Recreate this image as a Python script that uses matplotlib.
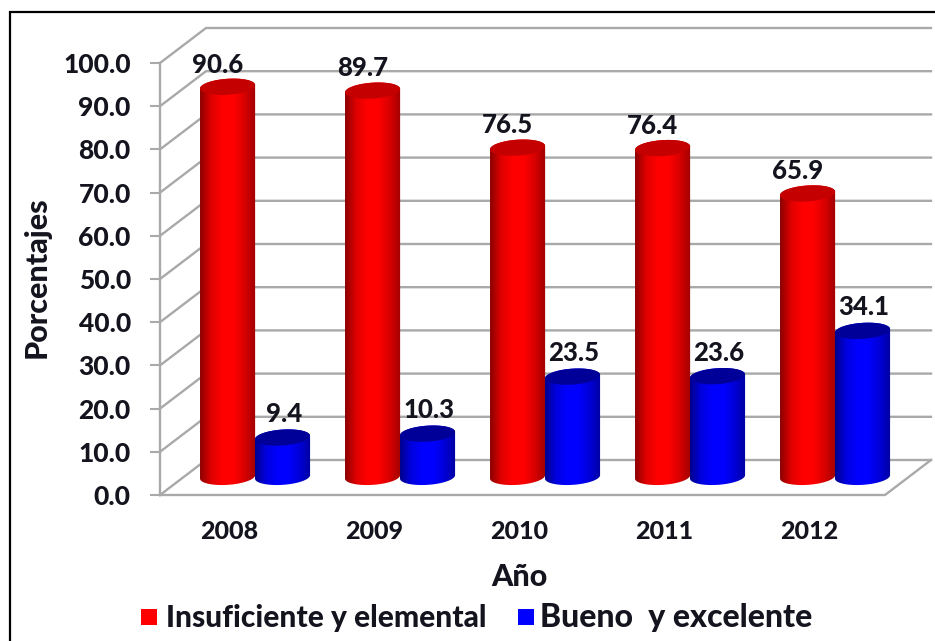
import numpy as np
import matplotlib
matplotlib.use("Agg")
import matplotlib.pyplot as plt
from matplotlib.patches import PathPatch, Polygon, Rectangle
from matplotlib.path import Path
from matplotlib.colors import LinearSegmentedColormap

plt.rcParams["font.family"] = ["Lato", "DejaVu Sans"]
plt.rcParams["font.weight"] = "black"

# DATA
YEARS = ["2008", "2009", "2010", "2011", "2012"]
INSUFICIENTE = [90.6, 89.7, 76.5, 76.4, 65.9]
BUENO = [9.4, 10.3, 23.5, 23.6, 34.1]
Y_TICKS = [0, 10, 20, 30, 40, 50, 60, 70, 80, 90, 100]

# GLOBALS (pixel layout of the figure)
W, H = 935, 641
X0, X1 = 160, 885
Y0, Y100 = 495, 63
PX_X = (X1 - X0) / 5
PX_Y = (Y0 - Y100) / 100
DEPTH_X = 46 / PX_X
DEPTH_Y = 35 / PX_Y
GRID = "#a9a9a9"
TEXT = "#14141e"
FLOOR = 4.2      # bars stand this far behind the front floor line
BAR_W = 0.38
ELL_H = 1.85
ELL_TILT = 0.4

RED_MAP = LinearSegmentedColormap.from_list("r", ["#8c0000", "#e00000", "#ff0000", "#ff0000", "#d80000", "#a00000"])
BLUE_MAP = LinearSegmentedColormap.from_list("b", ["#00008c", "#0000e0", "#0000ff", "#0000ff", "#0000d8", "#0000a0"])

fig = plt.figure(figsize=(W / 100, H / 100), dpi=100)
ax = fig.add_axes([X0 / W, 1 - Y0 / H, (X1 - X0) / W, (Y0 - Y100) / H])
ax.set_xlim(-0.5, 4.5)
ax.set_ylim(0, 100)
ax.patch.set_alpha(0)
for sp in ax.spines.values():
	sp.set_visible(False)


def ellipse_arc(xc, yc, start, stop):
	t = np.linspace(start, stop, 60)
	return np.column_stack([xc + BAR_W / 2 * np.cos(t),
	                        yc + ELL_H * np.sin(t) + ELL_TILT * np.cos(t)])


def cylinder(xc, value, cmap, top_color, z):
	"""Fake 3D column: shaded body clipped to the outline, ellipse on top"""
	y_top = value + FLOOR - 0.3
	lower = ellipse_arc(xc, FLOOR, np.pi, 2 * np.pi)
	upper = ellipse_arc(xc, y_top, 0, np.pi)
	body = Path(np.vstack([lower, upper, lower[:1]]))
	im = ax.imshow(np.linspace(0, 1, 128).reshape(1, -1), cmap=cmap, aspect="auto",
	               extent=(xc - BAR_W / 2, xc + BAR_W / 2, FLOOR - 3, y_top + 3), zorder=z)
	im.set_clip_box(fig.bbox)
	im.set_clip_path(PathPatch(body, transform=ax.transData))
	cap = Polygon(ellipse_arc(xc, y_top, 0, 2 * np.pi), closed=True, fc=top_color, ec="none",
	              zorder=z + 0.1, clip_on=False)
	ax.add_patch(cap)
	return y_top


# WALLS AND FLOOR
for v in Y_TICKS:
	ax.plot([-0.5, -0.5 + DEPTH_X, 4.5 + DEPTH_X], [v, v + DEPTH_Y, v + DEPTH_Y],
	        c=GRID, lw=1.7, clip_on=False, zorder=1, solid_joinstyle="miter")
ax.plot([-0.5, -0.5], [0, 100], c=GRID, lw=1.7, clip_on=False, zorder=1)
ax.plot([-0.5, 4.5, 4.5 + DEPTH_X], [0, 0, DEPTH_Y], c=GRID, lw=1.7, clip_on=False, zorder=1)

# COLUMNS
for i, (red, blue) in enumerate(zip(INSUFICIENTE, BUENO)):
	y_r = cylinder(i - 0.034, red, RED_MAP, "#c40000", 3 + i)
	y_b = cylinder(i + 0.345, blue, BLUE_MAP, "#000099", 3.5 + i)
	ax.annotate(f"{red:.1f}", (i - 0.034, y_r), xytext=(-7, 16), textcoords="offset points",
	            ha="center", va="center", fontsize=18.5, color=TEXT, zorder=20, annotation_clip=False)
	ax.annotate(f"{blue:.1f}", (i + 0.345, y_b), xytext=(1, 17), textcoords="offset points",
	            ha="center", va="center", fontsize=18.5, color=TEXT, zorder=20, annotation_clip=False)

ax.set_xlim(-0.5, 4.5)
ax.set_ylim(0, 100)

# AXES
ax.set_yticks(Y_TICKS, [f"{v:.1f}" for v in Y_TICKS], fontsize=19, color=TEXT)
ax.tick_params(axis="y", length=7, width=1.5, color=GRID, pad=14)
ax.set_xticks([i - 0.024 for i in range(len(YEARS))], YEARS, fontsize=18, color=TEXT)
ax.tick_params(axis="x", length=0, pad=18)
fig.text(37 / W, 1 - 277 / H, "Porcentajes", rotation=90, ha="center", va="center", fontsize=22, color=TEXT)
fig.text(519 / W, 1 - 577 / H, "Año", ha="center", va="center", fontsize=22, color=TEXT)

# LEGEND
fig.add_artist(Rectangle((141 / W, 1 - 625 / H), 16 / W, 16 / H, transform=fig.transFigure, fc="#ff0000", ec="none"))
fig.text(166 / W, 1 - 618 / H, "Insuficiente y elemental", ha="left", va="center", fontsize=21.5, color=TEXT)
fig.add_artist(Rectangle((518 / W, 1 - 625 / H), 16 / W, 16 / H, transform=fig.transFigure, fc="#0000ff", ec="none"))
fig.text(540 / W, 1 - 618 / H, "Bueno  y excelente", ha="left", va="center", fontsize=23, color=TEXT)

# OUTER FRAME (runs off the picture at right and bottom)
fig.add_artist(Rectangle((10 / W, -0.05), 1.1, 1.05 - 12 / H, transform=fig.transFigure,
                         fc="none", ec="black", lw=1.6))

fig.savefig("out.png", dpi=100, facecolor="white")
